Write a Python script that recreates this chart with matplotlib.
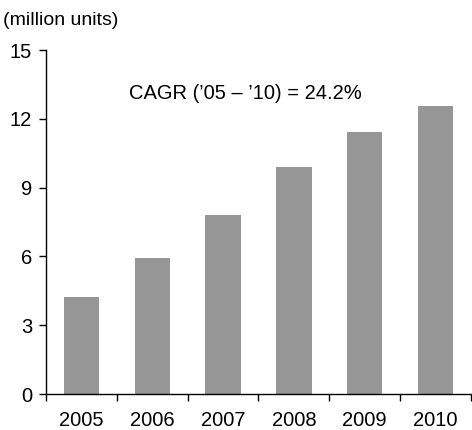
import numpy as np
import matplotlib.pyplot as plt

plt.rcParams['font.family'] = ['Liberation Sans', 'DejaVu Sans']

# 数据
years = ['2005', '2006', '2007', '2008', '2009', '2010']
units = [4.24, 5.93, 7.82, 9.92, 11.42, 12.58]  # million units
y_ticks = [0, 3, 6, 9, 12, 15]

fig = plt.figure(figsize=(4.72, 4.30), dpi=100)
ax = fig.add_axes([0.0975, 0.0837, 0.9, 0.80])

x = np.arange(len(years))
ax.bar(x, units, width=0.5, color='#969696')

ax.set_xlim(-0.5, len(years) - 0.5)
ax.set_ylim(0, 15)

# y轴
ax.set_yticks(y_ticks)
ax.tick_params(axis='y', direction='out', length=5, width=1, pad=5, labelsize=14.5)

# x轴: 刻度在分界处, 标签在中间
ax.set_xticks(np.arange(len(years) + 1) - 0.5)
ax.set_xticklabels([])
ax.set_xticks(x, minor=True)
ax.set_xticklabels(years, minor=True)
ax.tick_params(axis='x', which='major', direction='out', length=5, width=1)
ax.tick_params(axis='x', which='minor', length=0, pad=12, labelsize=14.5)

for s in ['top', 'right']:
    ax.spines[s].set_visible(False)
ax.spines['left'].set_linewidth(1)
ax.spines['bottom'].set_linewidth(1)

fig.text(0.006, 0.952, '(million units)', fontsize=14, va='center', ha='left')
ax.text(2.31, 13.1, "CAGR (\u201905 \u2013 \u201910) = 24.2%", fontsize=14.5,
        ha='center', va='center')

fig.savefig('out.png', dpi=100)
